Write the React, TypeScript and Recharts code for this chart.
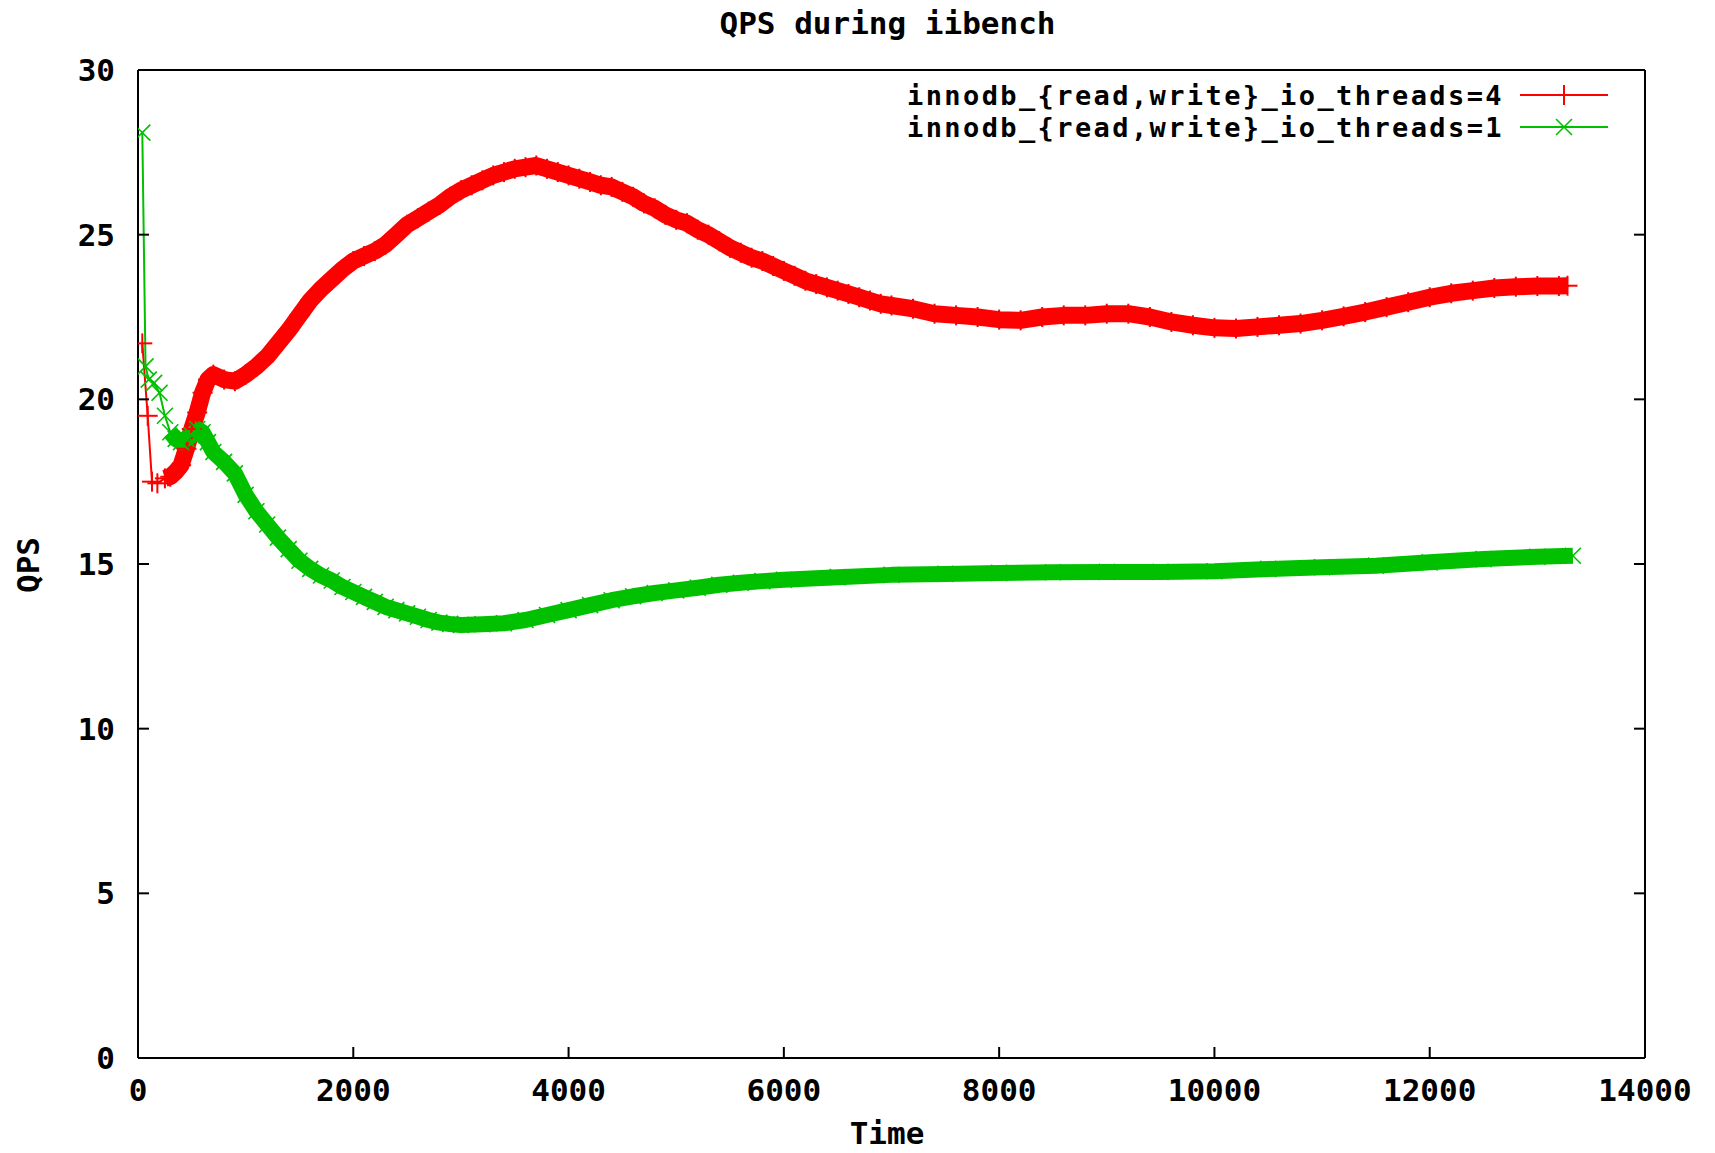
import { LineChart, Line, XAxis, YAxis, Legend } from 'recharts'

const FONT = "'DejaVu Sans Mono', 'Liberation Mono', monospace"
const RED = '#ff0000'
const GREEN = '#00c000'

const TITLE = 'QPS during iibench'
const X_LABEL = 'Time'
const Y_LABEL = 'QPS'
const SERIES_NAMES = ['innodb_{read,write}_io_threads=4', 'innodb_{read,write}_io_threads=1']

const X_TICKS = [0, 2000, 4000, 6000, 8000, 10000, 12000, 14000]
const Y_TICKS = [0, 5, 10, 15, 20, 25, 30]

// time (s)
const RED_T = [
  40, 90, 130, 180, 250, 300, 350, 400, 450, 500, 550, 600, 650, 700, 800, 900, 1000, 1100, 1200, 1300,
  1400, 1500, 1600, 1700, 1800, 1900, 2000, 2100, 2200, 2300, 2400, 2500, 2600, 2700, 2800, 2900, 3000,
  3100, 3200, 3300, 3400, 3500, 3600, 3700, 3800, 3900, 4000, 4100, 4200, 4300, 4400, 4500, 4600, 4700,
  4800, 4900, 5000, 5100, 5200, 5300, 5400, 5500, 5600, 5700, 5800, 5900, 6000, 6100, 6200, 6300, 6400,
  6500, 6600, 6700, 6800, 6900, 7000, 7200, 7400, 7600, 7800, 8000, 8200, 8400, 8600, 8800, 9000, 9200,
  9400, 9600, 9800, 10000, 10200, 10400, 10600, 10800, 11000, 11200, 11400, 11600, 11800, 12000, 12200,
  12400, 12600, 12800, 13000, 13200, 13280,
]
// qps, 4 io threads
const RED_QPS = [
  21.7, 19.5, 17.5, 17.45, 17.6, 17.65, 17.8, 18.0, 18.5, 19.1, 19.6, 20.2, 20.6, 20.75, 20.6, 20.55,
  20.75, 21.0, 21.3, 21.7, 22.1, 22.55, 23.0, 23.35, 23.65, 23.95, 24.2, 24.35, 24.5, 24.7, 25.0, 25.3,
  25.5, 25.7, 25.9, 26.15, 26.35, 26.5, 26.65, 26.8, 26.9, 27.0, 27.05, 27.1, 27.0, 26.9, 26.8, 26.7,
  26.6, 26.5, 26.45, 26.3, 26.15, 25.95, 25.8, 25.6, 25.45, 25.35, 25.15, 25.0, 24.8, 24.6, 24.45, 24.3,
  24.2, 24.05, 23.9, 23.75, 23.6, 23.5, 23.4, 23.3, 23.2, 23.1, 23.0, 22.9, 22.85, 22.75, 22.6, 22.55,
  22.5, 22.42, 22.4, 22.5, 22.55, 22.55, 22.6, 22.6, 22.5, 22.35, 22.25, 22.17, 22.15, 22.2, 22.25, 22.3,
  22.4, 22.52, 22.65, 22.8, 22.95, 23.1, 23.22, 23.3, 23.38, 23.42, 23.44, 23.44, 23.45,
]

const GREEN_T = [
  40, 70, 100, 150, 200, 250, 300, 350, 400, 450, 500, 550, 600, 650, 700, 800, 900, 1000, 1100, 1200,
  1300, 1400, 1500, 1600, 1700, 1800, 1900, 2000, 2100, 2200, 2300, 2400, 2500, 2600, 2700, 2800, 2900,
  3000, 3200, 3400, 3600, 3800, 4000, 4200, 4400, 4600, 4800, 5000, 5200, 5400, 5600, 5800, 6000, 6500,
  7000, 7500, 8000, 8500, 9000, 9500, 10000, 10500, 11000, 11500, 12000, 12500, 13000, 13330,
]
// qps, 1 io thread
const GREEN_QPS = [
  28.1, 21.0, 20.6, 20.5, 20.2, 19.5, 19.0, 18.8, 18.7, 18.8, 18.9, 19.1, 19.0, 18.7, 18.4, 18.1,
  17.75, 17.1, 16.6, 16.2, 15.8, 15.45, 15.1, 14.85, 14.65, 14.5, 14.3, 14.15, 14.0, 13.85, 13.7, 13.6,
  13.5, 13.4, 13.3, 13.22, 13.18, 13.15, 13.17, 13.2, 13.3, 13.45, 13.6, 13.75, 13.9, 14.02, 14.12, 14.2,
  14.28, 14.37, 14.43, 14.48, 14.52, 14.6, 14.67, 14.7, 14.73, 14.75, 14.76, 14.76, 14.78, 14.85, 14.9,
  14.95, 15.05, 15.15, 15.22, 15.25,
]

const red = RED_T.map((t, i) => ({ t, v: RED_QPS[i] }))
const green = GREEN_T.map((t, i) => ({ t, v: GREEN_QPS[i] }))
// the dense part of each run, where gnuplot's points merge into a solid band
const redBand = red.filter((d) => d.t >= 250)
const greenBand = green.filter((d) => d.t >= 300)

const textStyle = { fontFamily: FONT, fontSize: 31, fontWeight: 700, fill: '#000' }
const keyTextStyle = { ...textStyle, fontSize: 27, letterSpacing: 2.4 }

function PlusDot(props: any) {
  const { cx, cy } = props
  if (cx == null || cy == null) return null
  return (
    <g>
      <line x1={cx - 10} y1={cy} x2={cx + 10} y2={cy} stroke={RED} strokeWidth={2} />
      <line x1={cx} y1={cy - 10} x2={cx} y2={cy + 10} stroke={RED} strokeWidth={2} />
    </g>
  )
}

function CrossDot(props: any) {
  const { cx, cy } = props
  if (cx == null || cy == null) return null
  return (
    <g>
      <line x1={cx - 8} y1={cy - 8} x2={cx + 8} y2={cy + 8} stroke={GREEN} strokeWidth={1.6} />
      <line x1={cx - 8} y1={cy + 8} x2={cx + 8} y2={cy - 8} stroke={GREEN} strokeWidth={1.6} />
    </g>
  )
}

function BottomTick({ x, y, payload }: any) {
  return (
    <g>
      <line x1={x} y1={y} x2={x} y2={y - 11} stroke="#000" strokeWidth={2} />
      <text x={x} y={y + 32} textAnchor="middle" dominantBaseline="central" style={textStyle}>
        {payload.value}
      </text>
    </g>
  )
}

function LeftTick({ x, y, payload }: any) {
  return (
    <g>
      <line x1={x} y1={y} x2={x + 11} y2={y} stroke="#000" strokeWidth={2} />
      <text x={x - 23} y={y} textAnchor="end" dominantBaseline="central" style={textStyle}>
        {payload.value}
      </text>
    </g>
  )
}

function TopTick({ x, y }: any) {
  return <line x1={x} y1={y} x2={x} y2={y + 11} stroke="#000" strokeWidth={2} />
}

function RightTick({ x, y }: any) {
  return <line x1={x} y1={y} x2={x - 11} y2={y} stroke="#000" strokeWidth={2} />
}

function YTitle() {
  return (
    <text
      x={28}
      y={565}
      transform="rotate(-90, 28, 565)"
      textAnchor="middle"
      dominantBaseline="central"
      style={textStyle}
    >
      {Y_LABEL}
    </text>
  )
}

function XTitle() {
  return (
    <text x={887} y={1133} textAnchor="middle" dominantBaseline="central" style={textStyle}>
      {X_LABEL}
    </text>
  )
}

function KeyBox() {
  const rows = [
    { name: SERIES_NAMES[0], color: RED, Dot: PlusDot },
    { name: SERIES_NAMES[1], color: GREEN, Dot: CrossDot },
  ]
  return (
    <svg width={730} height={84} style={{ display: 'block' }}>
      {rows.map((r, i) => {
        const y = 26 + i * 32
        return (
          <g key={r.name}>
            <text x={616} y={y} textAnchor="end" dominantBaseline="central" style={keyTextStyle}>
              {r.name}
            </text>
            <line x1={632} y1={y} x2={720} y2={y} stroke={r.color} strokeWidth={2} />
            <r.Dot cx={676} cy={y} />
          </g>
        )
      })}
    </svg>
  )
}

export default function App() {
  return (
    <div style={{ position: 'absolute', left: 0, top: 0, width: 1715, height: 1153, background: '#fff' }}>
      <div
        style={{
          position: 'absolute',
          left: 0,
          width: 1775,
          top: 5,
          textAlign: 'center',
          fontFamily: FONT,
          fontSize: 31,
          fontWeight: 700,
        }}
      >
        {TITLE}
      </div>
      <LineChart width={1715} height={1153} margin={{ top: 0, right: 0, bottom: 0, left: 0 }}>
        <XAxis
          dataKey="t"
          type="number"
          domain={[0, 14000]}
          ticks={X_TICKS}
          allowDataOverflow
          height={95}
          tickSize={0}
          tickMargin={0}
          tickLine={false}
          tick={<BottomTick />}
          axisLine={{ stroke: '#000', strokeWidth: 2 }}
          label={<XTitle />}
        />
        <XAxis
          xAxisId="top"
          orientation="top"
          type="number"
          domain={[0, 14000]}
          ticks={X_TICKS}
          allowDataOverflow
          height={70}
          tickSize={0}
          tickMargin={0}
          tickLine={false}
          tick={<TopTick />}
          axisLine={{ stroke: '#000', strokeWidth: 2 }}
        />
        <YAxis
          type="number"
          domain={[0, 30]}
          ticks={Y_TICKS}
          allowDataOverflow
          width={138}
          tickSize={0}
          tickMargin={0}
          tickLine={false}
          tick={<LeftTick />}
          axisLine={{ stroke: '#000', strokeWidth: 2 }}
          label={<YTitle />}
        />
        <YAxis
          yAxisId="right"
          orientation="right"
          type="number"
          domain={[0, 30]}
          ticks={Y_TICKS}
          allowDataOverflow
          width={70}
          tickSize={0}
          tickMargin={0}
          tickLine={false}
          tick={<RightTick />}
          axisLine={{ stroke: '#000', strokeWidth: 2 }}
        />
        <Legend
          layout="horizontal"
          verticalAlign="middle"
          align="center"
          content={() => <KeyBox />}
          wrapperStyle={{ position: 'absolute', left: 888, top: 69, width: 730, height: 84 }}
        />
        <Line
          data={redBand}
          dataKey="v"
          stroke={RED}
          strokeWidth={17}
          strokeLinejoin="round"
          dot={false}
          activeDot={false}
          legendType="none"
          isAnimationActive={false}
        />
        <Line
          data={greenBand}
          dataKey="v"
          stroke={GREEN}
          strokeWidth={16}
          strokeLinejoin="round"
          dot={false}
          activeDot={false}
          legendType="none"
          isAnimationActive={false}
        />
        <Line
          data={red}
          dataKey="v"
          name={SERIES_NAMES[0]}
          stroke={RED}
          strokeWidth={2}
          dot={<PlusDot />}
          activeDot={false}
          isAnimationActive={false}
        />
        <Line
          data={green}
          dataKey="v"
          name={SERIES_NAMES[1]}
          stroke={GREEN}
          strokeWidth={2}
          dot={<CrossDot />}
          activeDot={false}
          isAnimationActive={false}
        />
      </LineChart>
    </div>
  )
}
